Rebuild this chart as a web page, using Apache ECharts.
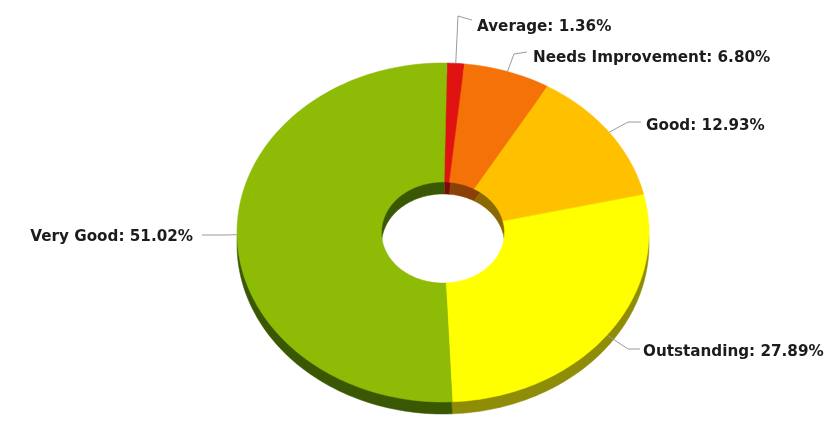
<!DOCTYPE html>
<html><head><meta charset="utf-8">
<style>html,body{margin:0;padding:0;background:#fff}#c{width:832px;height:421px;filter:blur(0.6px)}</style>
<script src="https://cdn.jsdelivr.net/npm/echarts@6/dist/echarts.min.js"></script>
</head><body><div id="c"></div>
<script>
const categories=["Average","Needs Improvement","Good","Outstanding","Very Good"];
const values=[1.36,6.80,12.93,27.89,51.02];
const colors=["#e01212","#f57208","#ffc000","#ffff00","#8dbb06"];
const wallColors=["#7a0c08","#8a4006","#8c6804","#8f8c08","#3a5804"];
// layout of the tilted doughnut
const CX=443,CY=232.5,RX=206,RY=169.5,HX=61.5,HY=50.5,DEPTH=12,START_DEG=1.1;
// label layout, in page pixels
const labelLayout=[
 {elbow:[458,16],end:[472,20],text:[477,27],align:'left'},
 {elbow:[514,54],end:[527,52],text:[533,58],align:'left'},
 {elbow:[628,122],end:[641,122],text:[646,126],align:'left'},
 {elbow:[628,349],end:[640,349],text:[643,352],align:'left'},
 {elbow:[225,235],end:[202,235],text:[193,237],align:'right'}
];
let acc=0;
const rows=values.map((v,i)=>{const r=[i,acc,acc+v,v];acc+=v;return r;});
const total=acc;
function pt(rx,ry,cy,deg){const t=deg*Math.PI/180;return [CX+rx*Math.sin(t),cy-ry*Math.cos(t)];}
function ring(a,b,cy){
 const pts=[],n=Math.max(4,Math.ceil((b-a)/1.5));
 for(let k=0;k<=n;k++)pts.push(pt(RX,RY,cy,a+(b-a)*k/n));
 for(let k=n;k>=0;k--)pts.push(pt(HX,HY,cy,a+(b-a)*k/n));
 return pts;
}
const angle=v=>START_DEG+v/total*360;
function walls(params,api){
 const i=api.value(0),a=angle(api.value(1)),b=angle(api.value(2));
 return {type:'polygon',shape:{points:ring(a,b,CY+DEPTH)},style:{fill:wallColors[i],stroke:wallColors[i],lineWidth:0.5}};
}
function faces(params,api){
 const i=api.value(0),a=angle(api.value(1)),b=angle(api.value(2));
 const L=labelLayout[i],m=pt(RX,RY,CY,(a+b)/2);
 return {type:'group',children:[
  {type:'polygon',shape:{points:ring(a,b,CY)},style:{fill:colors[i],stroke:colors[i],lineWidth:0.5}},
  {type:'polyline',shape:{points:[m,L.elbow,L.end]},style:{fill:null,stroke:'#9a9a9a',lineWidth:1}},
  {type:'text',style:{x:L.text[0],y:L.text[1],text:categories[i]+': '+api.value(3).toFixed(2)+'%',
    font:'bold 15.2px "DejaVu Sans"',fill:'#1c1c1c',textAlign:L.align,textVerticalAlign:'middle'}}
 ]};
}
const chart=echarts.init(document.getElementById('c'));
chart.setOption({
 animation:false,
 series:[
  {type:'custom',coordinateSystem:'none',silent:true,data:rows,renderItem:walls,z:1},
  {type:'custom',coordinateSystem:'none',data:rows,renderItem:faces,z:2}
 ]
});
</script></body></html>
